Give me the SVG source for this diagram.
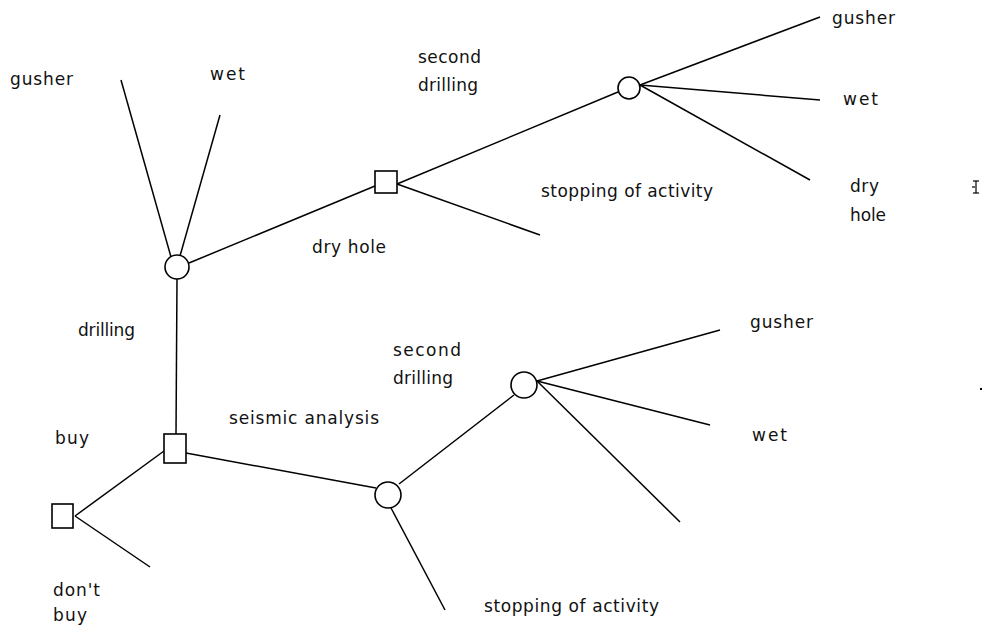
<svg xmlns="http://www.w3.org/2000/svg" width="984" height="626" viewBox="0 0 984 626">
<style>
.n{fill:#fff;stroke:#000;stroke-width:1.6}
.e{stroke:#000;stroke-width:1.5;fill:none}
text{font-family:"DejaVu Sans","Liberation Sans",sans-serif;font-size:17px;fill:#111}
</style>
<rect width="984" height="626" fill="#fff"/>
<g id="connectors">
<line class="e" x1="121" y1="80" x2="171" y2="257"/>
<line class="e" x1="220" y1="115" x2="180" y2="256"/>
<line class="e" x1="189" y1="263" x2="375" y2="186"/>
<line class="e" x1="397" y1="184" x2="618" y2="92"/>
<line class="e" x1="397" y1="184" x2="540" y2="235"/>
<line class="e" x1="640" y1="85" x2="820" y2="17"/>
<line class="e" x1="640" y1="85" x2="820" y2="100"/>
<line class="e" x1="640" y1="85" x2="810" y2="180"/>
<line class="e" x1="177" y1="279" x2="176" y2="434"/>
<line class="e" x1="164" y1="451" x2="75" y2="516"/>
<line class="e" x1="75" y1="516" x2="150" y2="567"/>
<line class="e" x1="186" y1="453" x2="376" y2="488"/>
<line class="e" x1="399" y1="484" x2="514" y2="395"/>
<line class="e" x1="391" y1="508" x2="445" y2="610"/>
<line class="e" x1="537" y1="381" x2="720" y2="330"/>
<line class="e" x1="537" y1="381" x2="710" y2="425"/>
<line class="e" x1="537" y1="381" x2="680" y2="522"/>
</g>
<g id="c1"><circle class="n" cx="177" cy="267" r="12"/></g>
<g id="s1"><rect class="n" x="375" y="171" width="22" height="22"/></g>
<g id="c2"><circle class="n" cx="629" cy="88" r="11"/></g>
<g id="s2"><rect class="n" x="164" y="434" width="22" height="29"/></g>
<g id="s3"><rect class="n" x="52" y="504" width="21" height="24"/></g>
<g id="c3"><circle class="n" cx="388" cy="495" r="13"/></g>
<g id="c4"><circle class="n" cx="524" cy="385" r="13"/></g>
<g id="labels">
<text x="10" y="85" textLength="63" lengthAdjust="spacing">gusher</text>
<text x="210" y="80" textLength="35" lengthAdjust="spacing">wet</text>
<text x="418" y="63" textLength="63" lengthAdjust="spacing">second</text>
<text x="418" y="91" textLength="60" lengthAdjust="spacing">drilling</text>
<text x="832" y="24" textLength="63" lengthAdjust="spacing">gusher</text>
<text x="843" y="105" textLength="35" lengthAdjust="spacing">wet</text>
<text x="850" y="192" textLength="29" lengthAdjust="spacing">dry</text>
<text x="850" y="221" textLength="36" lengthAdjust="spacing">hole</text>
<text x="541" y="197" textLength="172" lengthAdjust="spacing">stopping of activity</text>
<text x="312" y="253" textLength="74" lengthAdjust="spacing">dry hole</text>
<text x="78" y="336" textLength="57" lengthAdjust="spacing">drilling</text>
<text x="393" y="356" textLength="68" lengthAdjust="spacing">second</text>
<text x="393" y="384" textLength="60" lengthAdjust="spacing">drilling</text>
<text x="750" y="328" textLength="63" lengthAdjust="spacing">gusher</text>
<text x="752" y="441" textLength="35" lengthAdjust="spacing">wet</text>
<text x="229" y="424" textLength="150" lengthAdjust="spacing">seismic analysis</text>
<text x="55" y="444" textLength="34" lengthAdjust="spacing">buy</text>
<text x="53" y="596" textLength="47" lengthAdjust="spacing">don't</text>
<text x="53" y="621" textLength="34" lengthAdjust="spacing">buy</text>
<text x="484" y="612" textLength="175" lengthAdjust="spacing">stopping of activity</text>
</g>
<g id="marks" stroke="#000" stroke-width="1.2">
<line x1="973" y1="181" x2="979" y2="181"/>
<line x1="976" y1="181" x2="976" y2="193"/>
<line x1="973" y1="193" x2="979" y2="193"/>
<line x1="972" y1="187" x2="975" y2="187"/>
<rect x="980" y="388" width="2" height="2" fill="#000" stroke="none"/>
</g>
</svg>
